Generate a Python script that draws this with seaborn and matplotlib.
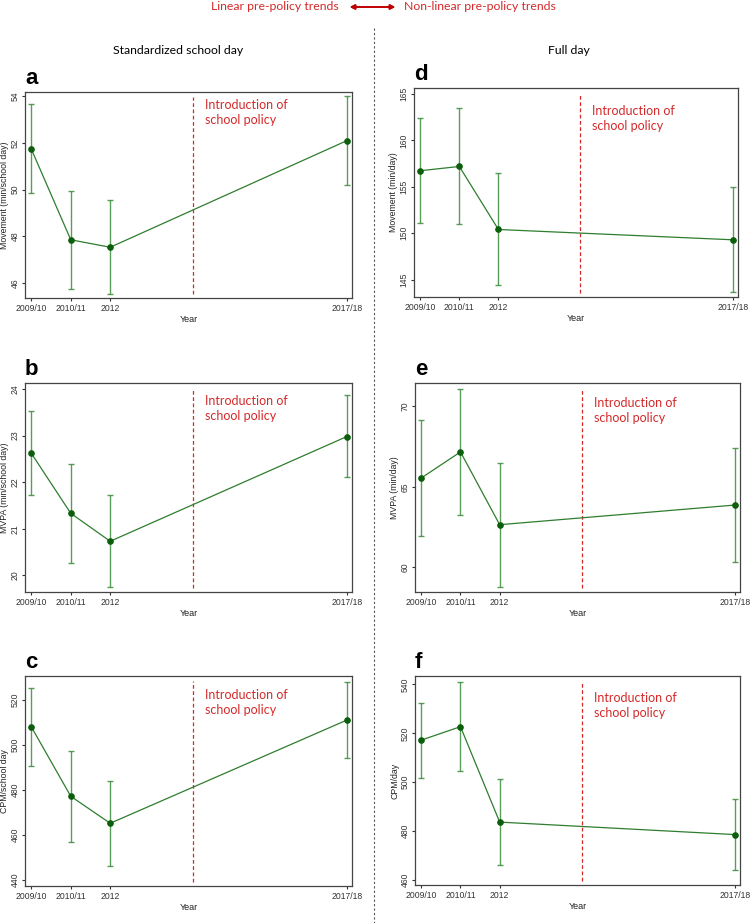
import matplotlib
matplotlib.use('Agg')
import matplotlib.pyplot as plt
from matplotlib.lines import Line2D
import numpy as np
import pandas as pd
import seaborn as sns

# Dados
years = ['2009/10', '2010/11', '2012', '2017/18']
year_pos = [2010, 2011, 2012, 2018]
policy_year = 2014.1

# Standardized school day
movement_school = [51.73, 47.85, 47.53, 52.09]
movement_school_lo = [49.84, 45.76, 45.53, 50.20]
movement_school_hi = [53.65, 49.95, 49.53, 53.99]

mvpa_school = [22.62, 21.33, 20.73, 22.98]
mvpa_school_lo = [21.72, 20.27, 19.74, 22.10]
mvpa_school_hi = [23.52, 22.38, 21.72, 23.88]

cpm_school = [508.1, 477.2, 465.2, 511.1]
cpm_school_lo = [490.8, 456.9, 446.2, 494.1]
cpm_school_hi = [525.5, 497.2, 484.0, 527.9]

# Full day
movement_full = [156.74, 157.20, 150.41, 149.30]
movement_full_lo = [151.06, 151.03, 144.38, 143.66]
movement_full_hi = [162.45, 163.45, 156.45, 154.94]

mvpa_full = [65.55, 67.17, 62.65, 63.87]
mvpa_full_lo = [61.93, 63.25, 58.81, 60.33]
mvpa_full_hi = [69.13, 71.10, 66.46, 67.43]

cpm_full = [517.2, 522.7, 483.7, 478.6]
cpm_full_lo = [501.8, 504.6, 466.0, 464.0]
cpm_full_hi = [532.5, 540.8, 501.2, 493.2]

sns.set_style('white')
plt.rcParams['font.family'] = ['Liberation Sans', 'DejaVu Sans']

fig = plt.figure(figsize=(7.5, 9.23), dpi=100)
H = 923.0
W = 750.0


def box(left, right, top, bottom):
    return [left / W, (H - bottom) / H, (right - left) / W, (bottom - top) / H]


panels = [
    ('a', box(25, 352, 92, 298), movement_school, movement_school_lo, movement_school_hi,
     'Movement (min/school day)', (45.36, 54.17), [46, 48, 50, 52, 54], 0.968),
    ('b', box(25, 352, 383, 592), mvpa_school, mvpa_school_lo, mvpa_school_hi,
     'MVPA (min/school day)', (19.64, 24.13), [20, 21, 22, 23, 24], 0.943),
    ('c', box(25, 352, 676, 886), cpm_school, cpm_school_lo, cpm_school_hi,
     'CPM/school day', (437.3, 530.7), [440, 460, 480, 500, 520], 0.938),
    ('d', box(414, 738, 88, 297), movement_full, movement_full_lo, movement_full_hi,
     'Movement (min/day)', (143.14, 165.65), [145, 150, 155, 160, 165], 0.918),
    ('e', box(415, 740, 383, 592), mvpa_full, mvpa_full_lo, mvpa_full_hi,
     'MVPA (min/day)', (58.47, 71.45), [60, 65, 70], 0.933),
    ('f', box(415, 740, 676, 885), cpm_full, cpm_full_lo, cpm_full_hi,
     'CPM/day', (458.0, 543.4), [460, 480, 500, 520, 540], 0.925),
]

green_line = '#2f7d2f'
green_dot = '#0b5e0b'
green_err = '#3c8c3c'
red = '#d42a2a'

for letter, rect, vals, lo, hi, ylabel, ylim, yticks, ty in panels:
    ax = fig.add_axes(rect)
    df = pd.DataFrame({'year': year_pos, 'value': vals})
    vals = np.array(vals)
    err = [vals - np.array(lo), np.array(hi) - vals]
    ax.errorbar(year_pos, vals, yerr=err, fmt='none', ecolor=green_err,
                elinewidth=1.0, capsize=2.5, capthick=1.0, alpha=0.85, zorder=2)
    sns.lineplot(data=df, x='year', y='value', ax=ax, color=green_line,
                 linewidth=0.9, marker='o', markersize=4, markerfacecolor=green_dot,
                 markeredgecolor=green_dot, zorder=3)
    ax.axvline(policy_year, ymin=0.02, ymax=0.975, color=red, linestyle=(0, (3, 2)),
               linewidth=0.9)
    ax.text(2014.4, ty, 'Introduction of\nschool policy', transform=ax.get_xaxis_transform(),
            ha='left', va='top', color=red, fontsize=9, family=['Lato', 'DejaVu Sans'],
            linespacing=1.3)
    ax.set_xlim(2009.84, 2018.13)
    ax.set_ylim(*ylim)
    ax.set_xticks(year_pos)
    ax.set_xticklabels(years)
    ax.set_yticks(yticks)
    ax.set_yticklabels([str(t) for t in yticks], rotation=90, va='center')
    ax.tick_params(axis='both', labelsize=6.2, colors='#333333', length=2.5, width=0.8,
                   direction='out', pad=1.5, left=True, bottom=True)
    for s in ax.spines.values():
        s.set_color('#444444')
        s.set_linewidth(0.9)
    ax.set_xlabel('Year', fontsize=6.5, color='#222222', labelpad=2)
    ax.set_ylabel(ylabel, fontsize=6.3, color='#222222', labelpad=1)
    ax.text(0.0, 1.015, letter, transform=ax.transAxes, ha='left', va='bottom',
            fontsize=16, fontweight='bold', color='black')

# Cabeçalhos
fig.text(339 / W, 1 - 7 / H, 'Linear pre-policy trends', ha='right', va='center',
         color=red, fontsize=8.8, family=['Lato', 'DejaVu Sans'])
fig.text(404 / W, 1 - 7 / H, 'Non-linear pre-policy trends', ha='left', va='center',
         color=red, fontsize=8.8, family=['Lato', 'DejaVu Sans'])
fig.add_artist(plt.annotate('', xy=(398 / W, 1 - 7 / H), xytext=(347 / W, 1 - 7 / H),
                            xycoords='figure fraction', textcoords='figure fraction',
                            arrowprops=dict(arrowstyle='<|-|>', color='#c00000', lw=1.2,
                                            mutation_scale=7)))
fig.text(178 / W, 1 - 50 / H, 'Standardized school day', ha='center', va='center',
         color='black', fontsize=8.8, family=['Lato', 'DejaVu Sans'])
fig.text(569 / W, 1 - 50 / H, 'Full day', ha='center', va='center',
         color='black', fontsize=8.8, family=['Lato', 'DejaVu Sans'])

# Linha tracejada separando as colunas
fig.add_artist(Line2D([373.5 / W, 373.5 / W], [1 - 28 / H, 0.0], transform=fig.transFigure,
                      color='#555555', linestyle=(0, (2, 2)), linewidth=0.8))

fig.savefig('out.png', dpi=100)
